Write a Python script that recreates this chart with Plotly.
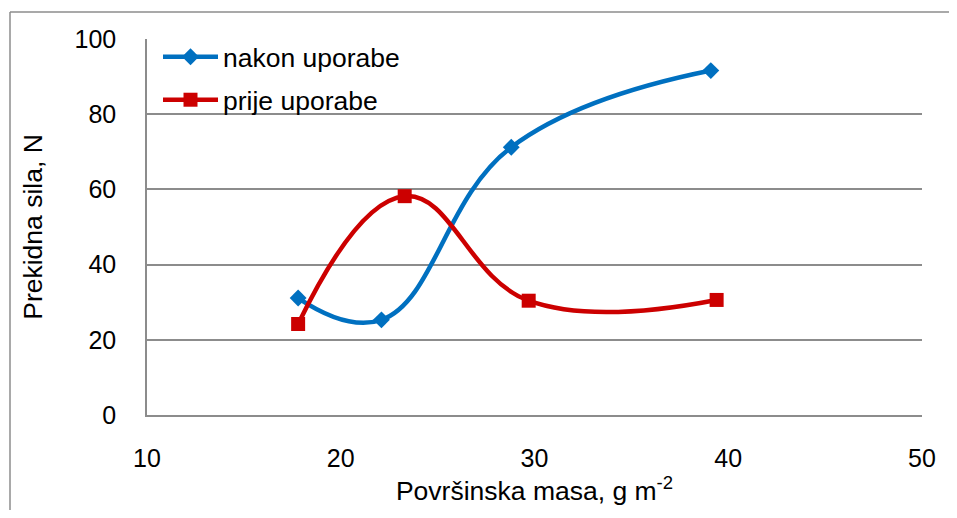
import plotly.graph_objects as go

# Data
x_nakon = [17.8, 22.1, 28.8, 39.1]
y_nakon = [31.1, 25.3, 71.2, 91.6]
x_prije = [17.8, 23.3, 29.7, 39.4]
y_prije = [24.2, 58.2, 30.4, 30.6]
series_names = ["nakon uporabe", "prije uporabe"]
x_ticks = [10, 20, 30, 40, 50]
y_ticks = [0, 20, 40, 60, 80, 100]

# page body has an 8px margin on every side; size the figure so nothing scrolls
W, H = 941, 502
L, R, T, B = 139, 27, 31, 95
pw, ph = W - L - R, H - T - B

def px_x(p):
    return (p - L) / pw

def px_y(p):
    return (H - B - p) / ph

fig = go.Figure()
fig.add_trace(go.Scatter(
    x=x_nakon, y=y_nakon, name=series_names[0], mode="lines+markers",
    line=dict(color="#0070C0", width=4.5, shape="spline", smoothing=1.2),
    marker=dict(symbol="diamond", size=13, color="#0070C0"),
    legend="legend",
))
fig.add_trace(go.Scatter(
    x=x_prije, y=y_prije, name=series_names[1], mode="lines+markers",
    line=dict(color="#CC0000", width=4.5, shape="spline", smoothing=1.2),
    marker=dict(symbol="square", size=14, color="#CC0000"),
    legend="legend2",
))

# outer chart frame (only left and top edges are visible in the window)
frame = dict(color="#8c8c8c", width=1.5)
fig.add_shape(type="line", xref="paper", yref="paper",
              x0=px_x(2), x1=px_x(2), y0=px_y(H), y1=px_y(4), line=frame, layer="below")
fig.add_shape(type="line", xref="paper", yref="paper",
              x0=px_x(2), x1=px_x(W), y0=px_y(4), y1=px_y(4), line=frame, layer="below")

font = dict(family="Liberation Sans, Arial, sans-serif", size=25, color="#000000")
leg = dict(xanchor="left", yanchor="middle", bgcolor="rgba(0,0,0,0)",
           font=dict(size=26.5), itemwidth=55, borderwidth=0)
fig.update_layout(
    width=W, height=H,
    margin=dict(l=L, r=R, t=T, b=B, pad=0),
    paper_bgcolor="white", plot_bgcolor="white",
    font=font,
    showlegend=True,
    legend=dict(leg, x=px_x(150), y=px_y(49)),
    legend2=dict(leg, x=px_x(150), y=px_y(92)),
    xaxis=dict(range=[10, 50], tickvals=x_ticks, showgrid=False,
               showline=True, linecolor="#8c8c8c", linewidth=1.5,
               ticks="", ticklabelstandoff=20, zeroline=False, automargin=False,
               title=dict(text="Površinska masa, g m<sup>-2</sup>", standoff=2,
                          font=dict(size=26.5))),
    yaxis=dict(range=[0, 100], tickvals=y_ticks, showgrid=True,
               gridcolor="#8c8c8c", gridwidth=1.5,
               showline=True, linecolor="#8c8c8c", linewidth=1.5,
               ticks="", ticklabelstandoff=24, zeroline=False, automargin=False,
               title=dict(text="Prekidna sila, N", standoff=24,
                          font=dict(size=26.5))),
)

fig.write_html("out.html")
